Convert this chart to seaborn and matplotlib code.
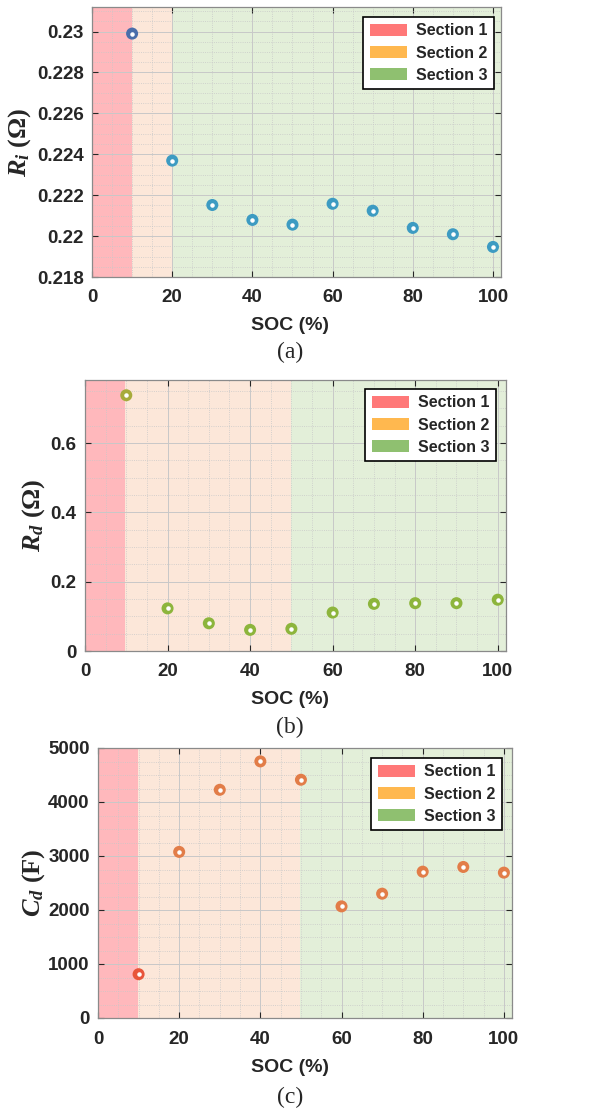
import matplotlib
matplotlib.use("Agg")
import numpy as np
import pandas as pd
import seaborn as sns
import matplotlib.pyplot as plt
from matplotlib.patches import Patch
from matplotlib.ticker import MultipleLocator, FuncFormatter

# data
soc = [10, 20, 30, 40, 50, 60, 70, 80, 90, 100]
ri = [0.2299, 0.22369, 0.22152, 0.22079, 0.22056, 0.22158, 0.22124, 0.2204, 0.22009, 0.21947]
rd = [0.738, 0.123, 0.080, 0.061, 0.064, 0.111, 0.136, 0.138, 0.138, 0.148]
cd = [811, 3076, 4226, 4752, 4412, 2067, 2302, 2710, 2797, 2692]

section_names = ["Section 1", "Section 2", "Section 3"]
bounds_a = [0, 10, 20, 102]
bounds_b = [0, 9.7, 49.9, 102]
bounds_c = [0, 9.9, 49.8, 102]

sns.set_style("ticks")
plt.rcParams["font.family"] = ["Liberation Sans", "DejaVu Sans"]
plt.rcParams["font.weight"] = "bold"
plt.rcParams["mathtext.fontset"] = "custom"
plt.rcParams["mathtext.it"] = "Liberation Serif:italic:bold"
plt.rcParams["mathtext.rm"] = "Liberation Serif:bold"

legend_cols = ["#ff7878", "#ffb84f", "#8fc070"]
bg_cols = ["#ffb8bc", "#fce7d9", "#e3efd9"]

fig = plt.figure(figsize=(6.06, 11.12), dpi=100)
W, H = 606, 1112


def make_ax(l, r, t, b):
    return fig.add_axes([l / W, 1 - b / H, (r - l) / W, (b - t) / H])


panels = [
    dict(box=(92, 501, 7, 277), y=ri, bounds=bounds_a, ylim=(0.218, 0.2312), ystep=0.002, yminor=0.0005,
         ylabel=r"$R_i$ (Ω)", cols=["#4a6eaa"] + ["#3d9bc2"] * 9, cap="(a)", xl_y=326, cap_y=352, lab_x=0.144,
         leg=(377, 494, 17, 89)),
    dict(box=(85, 506, 380, 651), y=rd, bounds=bounds_b, ylim=(0, 0.782), ystep=0.2, yminor=0.05,
         ylabel=r"$R_d$ (Ω)", cols=["#a7ab3b"] + ["#8db53c"] * 9, cap="(b)", xl_y=699, cap_y=727, lab_x=0.09,
         leg=(379, 496, 389, 462)),
    dict(box=(98, 512, 748, 1018), y=cd, bounds=bounds_c, ylim=(0, 5000), ystep=1000, yminor=250,
         ylabel=r"$C_d$ (F)", cols=["#e8553a"] + ["#e27d48"] * 9, cap="(c)", xl_y=1067, cap_y=1097, lab_x=0.123,
         leg=(384, 502, 758, 830)),
]

for p in panels:
    l, r, t, b = p["box"]
    ax = make_ax(l, r, t, b)
    bd = p["bounds"]
    for i in range(3):
        ax.axvspan(bd[i], bd[i + 1], color=bg_cols[i], zorder=0, lw=0)
    df = pd.DataFrame({"soc": soc, "val": p["y"], "pt": [str(s) for s in soc]})
    sns.scatterplot(data=df, x="soc", y="val", hue="pt", palette=p["cols"], legend=False,
                    s=75, marker="o", edgecolor="none", zorder=3, ax=ax)
    ax.scatter(soc, p["y"], s=5, color="white", zorder=4)

    ax.set_xlim(0, 102)
    ax.set_ylim(*p["ylim"])
    ax.xaxis.set_major_locator(MultipleLocator(20))
    ax.xaxis.set_minor_locator(MultipleLocator(5))
    ax.yaxis.set_major_locator(MultipleLocator(p["ystep"]))
    ax.yaxis.set_minor_locator(MultipleLocator(p["yminor"]))
    ax.yaxis.set_major_formatter(FuncFormatter(lambda v, pos: "%g" % round(v, 6)))
    ax.set_axisbelow(True)
    ax.grid(which="major", color="#c8c8c8", lw=0.7, ls="-")
    ax.grid(which="minor", color="#c8c8c8", lw=0.6, ls=":")
    ax.tick_params(which="both", direction="in", top=True, right=True, labelsize=13.5, colors="#262626",
                   length=4, width=0.8)
    ax.tick_params(axis="x", pad=9)
    ax.tick_params(axis="y", pad=6)
    ax.tick_params(which="minor", length=0)
    for lab in ax.get_xticklabels() + ax.get_yticklabels():
        lab.set_fontweight("bold")
    for s in ax.spines.values():
        s.set_color("#8a8a8a")
        s.set_linewidth(0.9)

    ax.set_xlabel("")
    ax.set_ylabel(p["ylabel"], fontsize=19, fontfamily="Liberation Serif", fontweight="bold")
    ax.yaxis.set_label_coords(-p["lab_x"], 0.5)

    cx = 290 / W
    fig.text(cx, 1 - p["xl_y"] / H, "SOC (%)", ha="center", va="center", fontsize=14, fontweight="bold")
    fig.text(cx, 1 - p["cap_y"] / H, p["cap"], ha="center", va="center", fontsize=17,
             fontfamily="Liberation Serif", fontweight="normal")

    handles = [Patch(facecolor=c, edgecolor="none", label=n) for c, n in zip(legend_cols, section_names)]
    ll, lr, lt, lb = p["leg"]
    leg = ax.legend(handles=handles, loc="upper right",
                    bbox_to_anchor=((lr - l) / (r - l), (b - lt) / (b - t)),
                    fancybox=False, framealpha=1, edgecolor="black",
                    prop={"weight": "bold", "size": 11.5}, handlelength=2.3, handleheight=0.75,
                    labelspacing=0.45, borderpad=0.4, handletextpad=0.6, borderaxespad=0)
    leg.get_frame().set_linewidth(1.2)

fig.savefig("out.png", dpi=100)
